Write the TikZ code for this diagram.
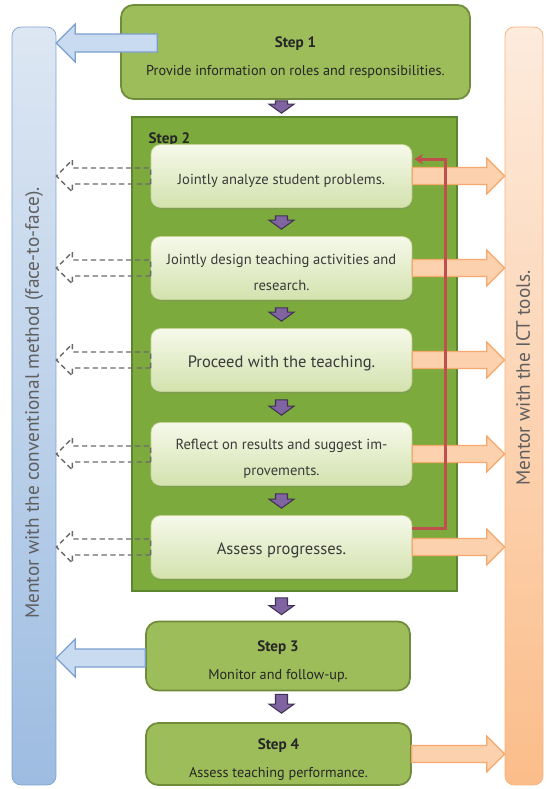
\documentclass[tikz,border=0pt]{standalone}
\usepackage{fontspec}
\setmainfont{PT Sans}
\usepackage{tikz}
\usetikzlibrary{calc}
\usetikzlibrary{shadows}
\usetikzlibrary{arrows.meta}
\definecolor{stepgreen}{HTML}{9CBD5A}
\definecolor{stepline}{HTML}{6E8C3A}
\definecolor{step2green}{HTML}{7DAA3D}
\definecolor{step2line}{HTML}{5C8530}
\definecolor{innertop}{HTML}{F6F9EA}
\definecolor{innerbot}{HTML}{D3E2AE}
\definecolor{innerline}{HTML}{C2D394}
\definecolor{arrowpurple}{HTML}{8064A2}
\definecolor{purpleline}{HTML}{3F3151}
\definecolor{bluetop}{HTML}{DDE7F3}
\definecolor{bluebot}{HTML}{9DBCE1}
\definecolor{bluebar}{HTML}{7EA2CF}
\definecolor{bluefill}{HTML}{C9DBF1}
\definecolor{blueline}{HTML}{7B9FCF}
\definecolor{orangetop}{HTML}{FDEBDD}
\definecolor{orangebot}{HTML}{FBBD8A}
\definecolor{orangebar}{HTML}{F8B07A}
\definecolor{orangefill}{HTML}{FBD1AE}
\definecolor{orangeline}{HTML}{F5A96C}
\definecolor{dashgray}{HTML}{6A6A6A}
\definecolor{redline}{HTML}{C0504D}
\definecolor{steptext}{HTML}{262626}
\definecolor{innertext}{HTML}{3A3A3A}
\definecolor{bartextgray}{HTML}{5F5F5F}
\newcommand{\bxfont}{\fontsize{8.3}{14.8}\selectfont}
\newcommand{\bigbxfont}{\fontsize{9.4}{14.8}\selectfont}
\newcommand{\stepfont}{\fontsize{8.1}{16}\selectfont}
\newcommand{\steplabelfont}{\fontsize{8.6}{10}\selectfont\bfseries}
\newcommand{\barfont}{\fontsize{11}{13}\selectfont}
%% struts that push the texts a little down in their boxes
\newcommand{\stepstrut}{\rule{0pt}{12.5pt}}
\newcommand{\bxstrut}{\rule{0pt}{11pt}}
\tikzset{
every picture/.style={line width=0.8pt, >=stealth},
%%%%%%%%%%  Node styles
stepbox/.style={draw=stepline, fill=stepgreen, line width=1pt, rounded corners=7pt,
                align=center, inner sep=0pt, font=\stepfont, text=steptext},
innerbox/.style={draw=innerline, thin, top color=innertop, bottom color=innerbot,
                 rounded corners=5.5pt, align=center, inner sep=0pt,
                 font=\bxfont, text=innertext,
                 minimum width=5.22cm, minimum height=1.26cm,
                 drop shadow={shadow xshift=0.5pt, shadow yshift=-1pt, opacity=0.3}},
sidebar/.style={rounded corners=5pt, thin, inner sep=0pt},
bartext/.style={rotate=90, font=\barfont, text=bartextgray, inner sep=0pt},
%%%%%%%%%%  block arrows: shaft half width, head half width, head length
fatarrow/.style n args={3}{to path={
   let \p1=(\tikztostart), \p2=(\tikztotarget),
       \n1={scalar(atan2(\y2-\y1,\x2-\x1))},
       \n2={veclen(\x2-\x1,\y2-\y1)}
   in [shift={(\p1)},rotate=\n1]
   (0pt,#1) -- (\n2-#3,#1) -- (\n2-#3,#2) -- (\n2+0pt,0pt)
   -- (\n2-#3,-#2) -- (\n2-#3,-#1) -- (0pt,-#1) -- cycle}},
purplearrow/.style={fatarrow={0.12cm}{0.25cm}{0.18cm}, fill=arrowpurple,
                    draw=purpleline, line width=0.6pt},
bluearrow/.style={fatarrow={0.18cm}{0.38cm}{0.38cm}, fill=bluefill,
                  draw=blueline, line width=0.7pt},
orangearrow/.style={fatarrow={0.17cm}{0.36cm}{0.36cm}, fill=orangefill,
                    draw=orangeline, line width=0.7pt},
dasharrow/.style={fatarrow={0.16cm}{0.32cm}{0.32cm}, draw=dashgray,
                  dash pattern=on 3pt off 2pt, line width=0.8pt},
%% the loop back from the last substep to the first
feedback/.style={draw=redline, line width=1.7pt, -{Stealth[length=5pt,width=6pt]}}
}

\begin{document}
\begin{tikzpicture}[x=0.02cm,y=-0.02cm]
\useasboundingbox (0,0) rectangle (549,789);
%% side bars
\node[sidebar, draw=bluebar, top color=bluetop, bottom color=bluebot,
      minimum width=0.88cm, minimum height=15.16cm] (leftbar) at (34,406) {};
\node[sidebar, draw=orangebar, top color=orangetop, bottom color=orangebot,
      minimum width=0.76cm, minimum height=15.16cm] (rightbar) at (524,406) {};
\node[bartext] (lefttext) at (34,403) {Mentor with the conventional method (face-to-face).};
\node[bartext] (righttext) at (523,378) {Mentor with the ICT tools.};
%% step 2 frame with its substeps
\node[draw=step2line, fill=step2green, line width=1pt,
      minimum width=6.5cm, minimum height=9.48cm] (step2) at (294.5,354) {};
\node[anchor=west, font=\steplabelfont, text=steptext,
      inner sep=0pt] (step2label) at (148,140) {Step 2};
\node[innerbox] (boxA) at (281.5,176) {\bxstrut Jointly analyze student problems.};
\node[innerbox] (boxB) at (281.5,268) {\bxstrut Jointly design teaching activities and\\research.};
\node[innerbox, font=\bigbxfont] (boxC) at (281.5,360) {\bxstrut Proceed with the teaching.};
\node[innerbox] (boxD) at (281.5,454) {\bxstrut Reflect on results and suggest im-\\provements.};
\node[innerbox, font=\bigbxfont] (boxE) at (281.5,547) {\bxstrut Assess progresses.};
%% steps 1, 3, 4
\node[stepbox, minimum width=6.98cm, minimum height=1.88cm] (step1) at (295.5,52)
     {{\steplabelfont\stepstrut Step 1}\\Provide information on roles and responsibilities.};
\node[stepbox, minimum width=5.28cm, minimum height=1.38cm] (step3) at (278,656)
     {{\steplabelfont\stepstrut Step 3}\\Monitor and follow-up.};
\node[stepbox, minimum width=5.3cm, minimum height=1.24cm] (step4) at (278.5,754)
     {{\steplabelfont\stepstrut Step 4}\\Assess teaching performance.};
%% conventional mentoring (left)
\coordinate (b1) at ($(step1.west)+(37,-9)$);
\draw[bluearrow] (b1) to (b1 -| leftbar.east);
\draw[bluearrow] ($(step3.west)+(0,2)$) to ($(step3.west -| leftbar.east)+(0,2)$);
\draw[dasharrow] (boxA.west) to (boxA.west -| leftbar.east);
\draw[dasharrow] (boxB.west) to (boxB.west -| leftbar.east);
\draw[dasharrow] (boxC.west) to (boxC.west -| leftbar.east);
\draw[dasharrow] (boxD.west) to (boxD.west -| leftbar.east);
\draw[dasharrow] (boxE.west) to (boxE.west -| leftbar.east);
%% ICT mentoring (right)
\draw[orangearrow] (boxA.east) to (boxA.east -| rightbar.west);
\draw[orangearrow] (boxB.east) to (boxB.east -| rightbar.west);
\draw[orangearrow] (boxC.east) to (boxC.east -| rightbar.west);
\draw[orangearrow] (boxD.east) to (boxD.east -| rightbar.west);
\draw[orangearrow] (boxE.east) to (boxE.east -| rightbar.west);
\draw[orangearrow] (step4.east) to (step4.east -| rightbar.west);
%% flow between steps
\draw[purplearrow] ($(step1.south -| boxA)+(0,1)$) to ($(step2.north -| boxA)+(0,-3)$);
\draw[purplearrow] ($(boxA.south)+(0,8)$) to ($(boxB.north)+(0,-7)$);
\draw[purplearrow] ($(boxB.south)+(0,8)$) to ($(boxC.north)+(0,-7)$);
\draw[purplearrow] ($(boxC.south)+(0,8)$) to ($(boxD.north)+(0,-7)$);
\draw[purplearrow] ($(boxD.south)+(0,8)$) to ($(boxE.north)+(0,-7)$);
\draw[purplearrow] ($(step2.south -| boxE)+(0,6)$) to ($(step3.north -| boxE)+(0,-6)$);
\draw[purplearrow] ($(step3.south -| boxE)+(0,3)$) to ($(step4.north -| boxE)+(0,-9)$);
%% feedback loop
\draw[feedback] ($(boxE.north east)+(0,13)$) -| ($(boxA.north east)+(33,15)$)
     -- ($(boxA.north east)+(2,15)$);
\end{tikzpicture}
\end{document}
